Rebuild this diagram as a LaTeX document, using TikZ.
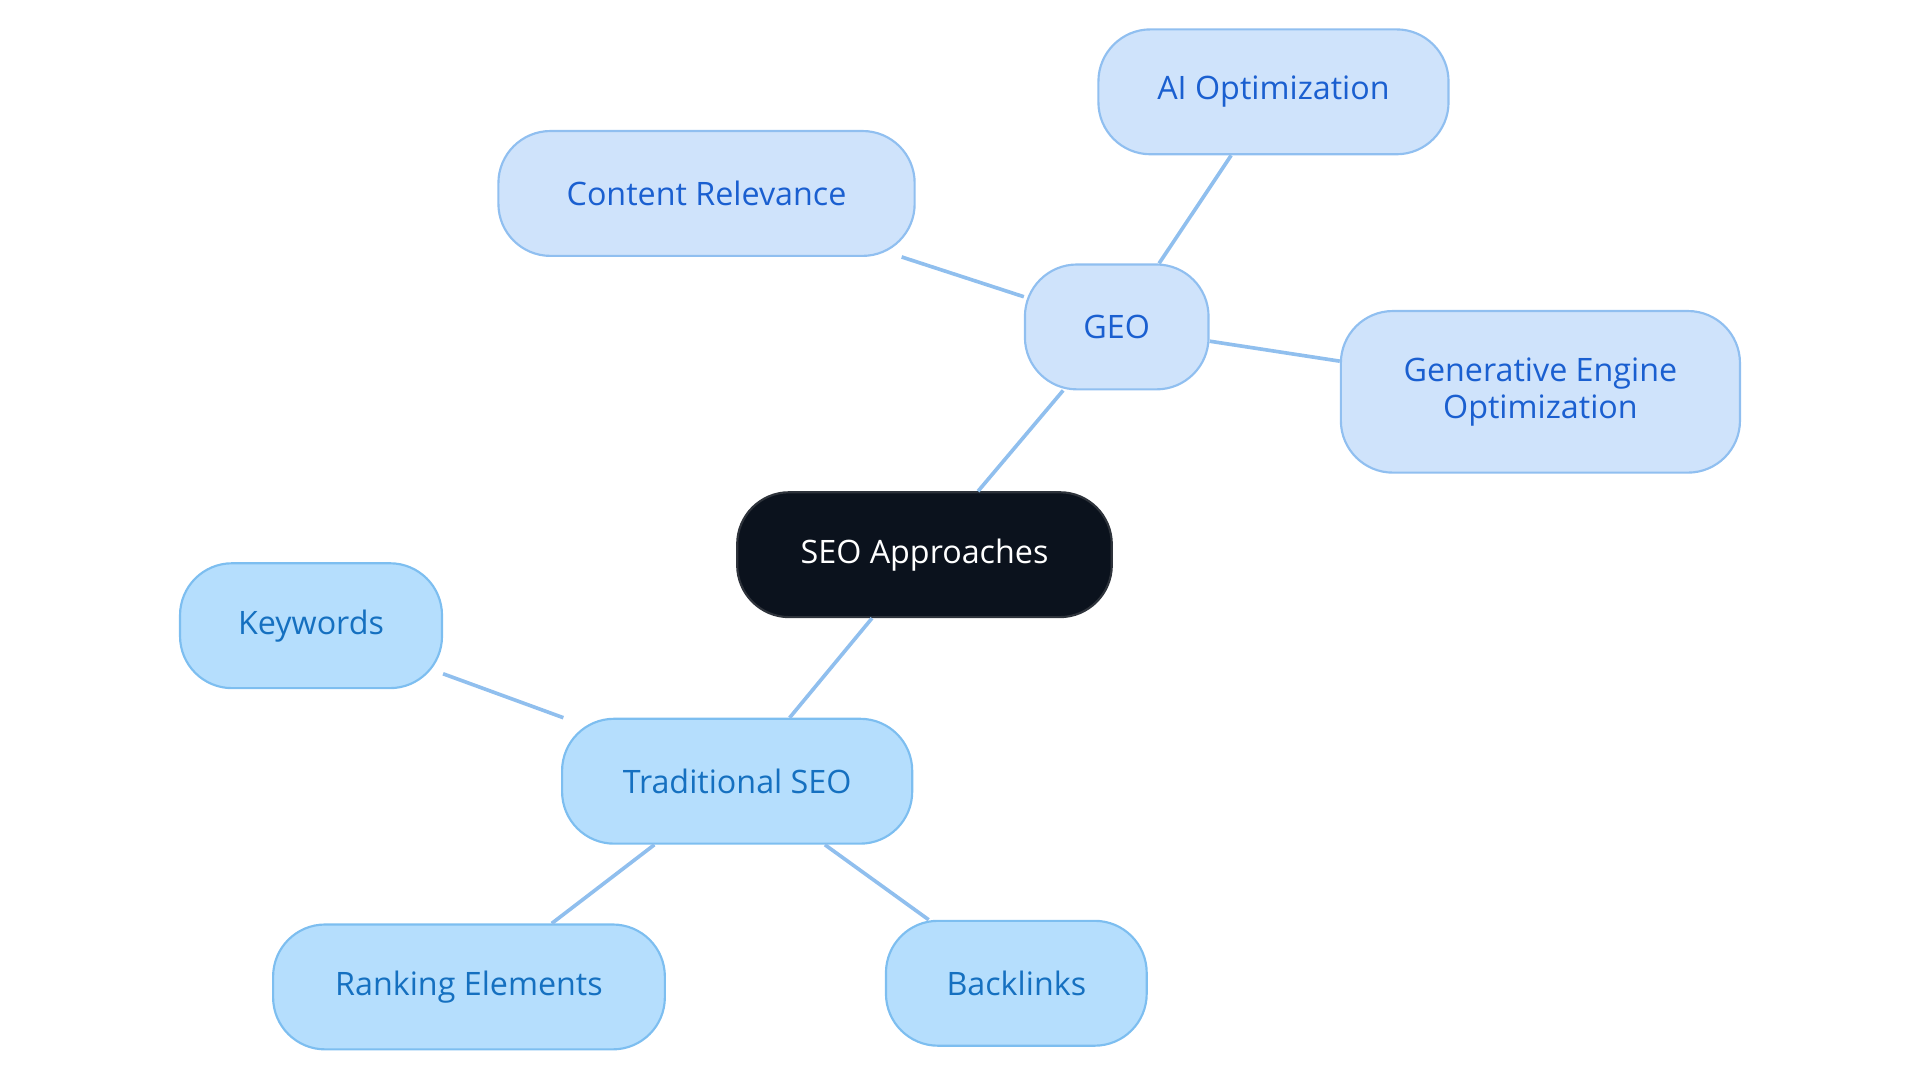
\documentclass[tikz,border=0pt]{standalone}
\usepackage{fontspec}
\setmainfont{Open Sans}
\definecolor{rootfill}{HTML}{0B121D}
\definecolor{geofill}{HTML}{CFE3FB}
\definecolor{geoline}{HTML}{90BFF0}
\definecolor{geotext}{HTML}{1A5FD0}
\definecolor{seofill}{HTML}{B5DEFD}
\definecolor{seoline}{HTML}{7DBEF0}
\definecolor{seotext}{HTML}{1570C0}
\definecolor{edge}{HTML}{90BFEE}
\tikzset{
    topic/.style={draw, line width=1pt, rounded corners=0.85cm, minimum height=2.04cm,
        align=center, font=\fontsize{15}{17}\selectfont, inner sep=0pt},
    geobox/.style={topic, fill=geofill, draw=geoline, text=geotext},
    seobox/.style={topic, fill=seofill, draw=seoline, text=seotext},
    rootbox/.style={topic, fill=rootfill, draw=rootfill!70!gray, text=white},
    link/.style={draw=edge, line width=1.7pt}
}
\begin{document}
\begin{tikzpicture}[x=0.02cm,y=-0.02cm]
    \useasboundingbox (0,0) rectangle (1568,884);
    % root
    \node[rootbox, minimum width=6.12cm] (Root) at (755,453) {SEO Approaches};
    % GEO branch
    \node[geobox, minimum width=3cm] (Geo) at (912,267) {GEO};
    \node[geobox, minimum width=6.8cm] (Content) at (577,158) {Content Relevance};
    \node[geobox, minimum width=5.72cm] (AiOpt) at (1040,75) {AI Optimization};
    \node[geobox, minimum width=6.52cm, minimum height=2.64cm] (GenEngine) at (1258,320) {Generative Engine\\Optimization};
    % traditional branch
    \node[seobox, minimum width=5.72cm] (Trad) at (602,638) {Traditional SEO};
    \node[seobox, minimum width=4.28cm] (Keywords) at (254,511) {Keywords};
    \node[seobox, minimum width=6.4cm] (Ranking) at (383,806) {Ranking Elements};
    \node[seobox, minimum width=4.26cm] (Backlinks) at (830,803) {Backlinks};
    \begin{scope}[on background layer/.try]
    \end{scope}
    \foreach \a/\b in {Root/Geo,Geo/Content,Geo/AiOpt,Geo/GenEngine,Root/Trad,Trad/Keywords,Trad/Ranking,Trad/Backlinks}{% edges
        \path[link] (\a) -- (\b);
    }
\end{tikzpicture}
\end{document}
